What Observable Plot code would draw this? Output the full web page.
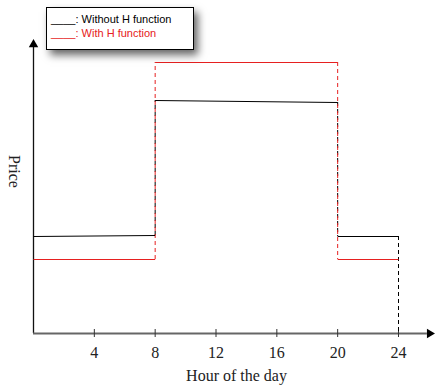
<!DOCTYPE html>
<html>
<head>
<meta charset="utf-8">
<script src="https://cdn.jsdelivr.net/npm/d3@7"></script>
<script src="https://cdn.jsdelivr.net/npm/@observablehq/plot@0.6"></script>
<style>
  html, body { margin: 0; padding: 0; background: #fff; }
  #wrap { position: relative; width: 435px; height: 386px; }
  #legend {
    position: absolute; left: 46px; top: 7px; width: 148px; height: 43px;
    border: 1px solid #000; background: #fff; box-sizing: border-box;
    box-shadow: 4px 5px 8px rgba(0,0,0,0.6);
    font-family: "Liberation Sans", Arial, sans-serif; font-size: 11px; line-height: 13.5px;
    padding: 5px 0 0 4px;
  }
</style>
</head>
<body>
<div id="wrap">
  <div id="chart"></div>
  <div id="legend">
    <div style="color:#000">____: Without H function</div>
    <div style="color:#e62020">____: With H function</div>
  </div>
</div>
<script>
// Hour boundaries of the three price periods
const segStart = [0, 8, 20];
const segEnd = [8, 20, 24];
// "Without H function" price at start / end of each period (arbitrary units)
const withoutStartVal = [97, 233, 97];
const withoutEndVal = [98, 231, 97];
// "With H function" price for each period
const withVal = [74, 271, 74];
// x tick values
const xTicks = [4, 8, 12, 16, 20, 24];

const withoutSegs = segStart.map((s, i) => ({x1: s, x2: segEnd[i], y1: withoutStartVal[i], y2: withoutEndVal[i]}));
const withSegs = segStart.map((s, i) => ({x1: s, x2: segEnd[i], y1: withVal[i], y2: withVal[i]}));

const withoutVert = [
  {x: segEnd[0], y1: withoutEndVal[0], y2: withoutStartVal[1]},
  {x: segEnd[1], y1: withoutEndVal[1], y2: withoutStartVal[2]},
  {x: segEnd[2], y1: withoutEndVal[2], y2: 0}
];
const withVert = [
  {x: segEnd[0], y1: withVal[0], y2: withVal[1]},
  {x: segEnd[1], y1: withVal[1], y2: withVal[2]}
];

const red = "#e62020";
const serif = "'Liberation Serif', 'Times New Roman', serif";

const chart = Plot.plot({
  width: 435,
  height: 386,
  marginLeft: 33,
  marginRight: 37,
  marginTop: 40,
  marginBottom: 53,
  x: {domain: [0, 24], axis: null},
  y: {domain: [0, 293], axis: null},
  marks: [
    // axes
    Plot.ruleX([0], {y1: 0, y2: 288, stroke: "#111", strokeWidth: 1.3}),
    Plot.dot([{x: 0, y: 289}], {x: "x", y: "y", symbol: "triangle", r: 3.5, fill: "#000", stroke: "none"}),
    Plot.ruleY([0], {x1: 0, x2: 25.9, stroke: "#666", strokeWidth: 2}),
    Plot.dot([{x: 26.05, y: 0}], {x: "x", y: "y", symbol: "triangle", r: 3.5, fill: "#000", stroke: "none", rotate: 90}),
    Plot.ruleX(xTicks, {y1: -4, y2: 4, stroke: "#333", strokeWidth: 1}),
    Plot.text(xTicks, {x: d => d, y: -19, text: d => String(d), fontSize: 16, fontFamily: serif, fill: "#222"}),
    Plot.text(["Hour of the day"], {x: 13.35, y: -42, text: d => d, fontSize: 16, fontFamily: serif, fill: "#222", letterSpacing: "0.8px"}),
    Plot.text(["Price"], {x: -1.25, y: 162, text: d => d, fontSize: 16, fontFamily: serif, fill: "#222", rotate: 90, letterSpacing: "1.5px"}),
    // dashed verticals
    Plot.ruleX(withoutVert, {x: "x", y1: "y1", y2: "y2", stroke: "#000", strokeWidth: 1, strokeDasharray: "4,3"}),
    Plot.ruleX(withVert, {x: "x", y1: "y1", y2: "y2", stroke: red, strokeWidth: 1, strokeDasharray: "4,3"}),
    // horizontal price segments
    Plot.link(withSegs, {x1: "x1", x2: "x2", y1: "y1", y2: "y2", stroke: red, strokeWidth: 1}),
    Plot.link(withoutSegs, {x1: "x1", x2: "x2", y1: "y1", y2: "y2", stroke: "#000", strokeWidth: 1})
  ]
});
document.getElementById("chart").appendChild(chart);
</script>
</body>
</html>
